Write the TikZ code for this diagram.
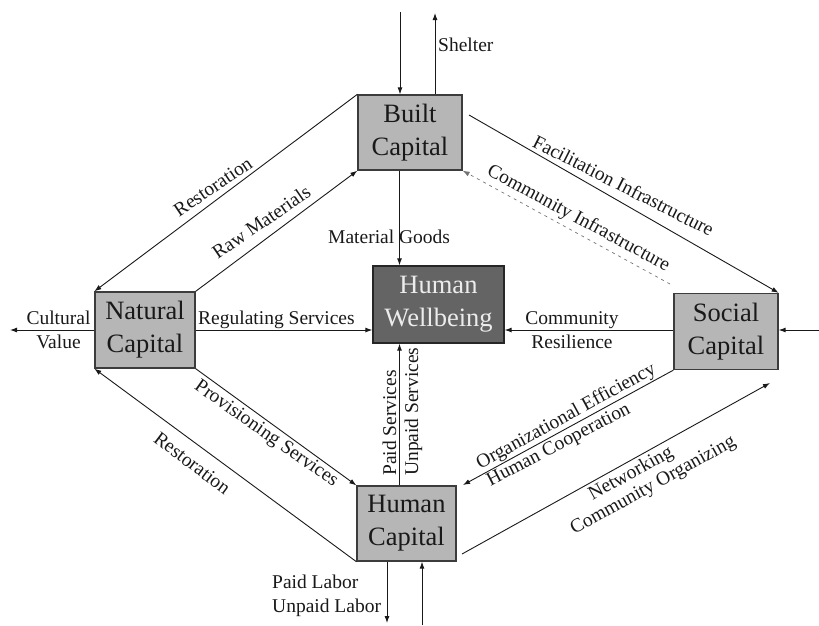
\documentclass[tikz,border=0pt]{standalone}
\usepackage{fontspec}
\setmainfont{Liberation Serif}
\usetikzlibrary{arrows.meta,calc}
\definecolor{boxgray}{RGB}{182,182,182}
\definecolor{wbgray}{RGB}{100,100,100}
\definecolor{wbtext}{RGB}{236,236,236}
\definecolor{linec}{RGB}{25,25,25}
\definecolor{edgec}{RGB}{60,60,60}
\begin{document}
\begin{tikzpicture}[x=1pt,y=-1pt,
  capbox/.style={draw=edgec, line width=1.3pt, fill=boxgray, inner sep=0pt, align=center,
     font=\fontsize{26.5}{33}\selectfont, text=black!90},
  wbbox/.style={capbox, fill=wbgray, draw=black!85, text=wbtext},
  lab/.style={font=\fontsize{19.5}{23.5}\selectfont, inner sep=0pt, text=black!90},
  arr/.style={draw=linec, line width=0.9pt, -{Latex[length=7pt,width=5pt]}},
  dotline/.style={arr, draw=black!55, line width=0.7pt, dash pattern=on 3pt off 4pt}]
\useasboundingbox (0,0) rectangle (819,625);

% boxes
\node[capbox, minimum width=104pt, minimum height=75pt] (built) at (410,132.5) {Built\\Capital};
\node[capbox, minimum width=100pt, minimum height=76pt] (natural) at (145,330) {Natural\\Capital};
\node[capbox, minimum width=104pt, minimum height=76pt] (social) at (726,331.5) {Social\\Capital};
\node[capbox, minimum width=99pt, minimum height=75pt] (human) at (406.5,523.5) {Human\\Capital};
\node[wbbox, minimum width=131pt, minimum height=77pt] (wb) at (438.5,304.5) {Human\\Wellbeing};

% free ends
\coordinate (vx) at (399.5,0);
\coordinate (topin) at (400,12);
\coordinate (topout) at (435,13);
\coordinate (botout) at (387,623);
\coordinate (botin) at (422,625);
\coordinate (cv) at (10,0);
\coordinate (rin) at (819,0);
\coordinate (fi) at (469,115);
\coordinate (ci) at (670,284);
\coordinate (oe) at (463,485);
\coordinate (nw1) at (462,554);
\coordinate (nw2) at (770,383);

% vertical connectors
\draw[arr] (topin) -- (topin |- built.north);
\draw[arr] (topout |- built.north) -- (topout);
\draw[arr] (vx |- built.south) -- (vx |- wb.north);
\draw[arr] (vx |- human.north) -- (vx |- wb.south);
\draw[arr] (botout |- human.south) -- (botout);
\draw[arr] (botin) -- (botin |- human.south);

% horizontal connectors
\draw[arr] (natural.west) -- (cv |- natural.west);
\draw[arr] (natural.east) -- (wb.west |- natural.east);
\draw[arr] (social.west |- natural.east) -- (wb.east |- natural.east);
\draw[arr] (rin |- natural.east) -- (social.east |- natural.east);

% diagonal connectors
\draw[arr] (built.north west) -- (natural.north west);
\draw[arr] (natural.north east) -- (built.south west);
\draw[arr] (fi) -- (social.north east);
\draw[dotline] (ci) -- (built.south east);
\draw[arr] (natural.south east) -- (human.north west);
\draw[arr] (human.south west) -- (natural.south west);
\draw[arr] (social.south west) -- (oe);
\draw[arr] (nw1) -- (nw2);

% labels (multi-line nodes: base anchor is the last line's baseline)
\node[lab, anchor=base west] (shelter) at (438,51) {Shelter};
\node[lab, anchor=base west] (matgoods) at (328,243) {Material Goods};
\node[lab, anchor=base west] (regserv) at (198,324) {Regulating Services};
\node[lab, align=center, anchor=base] (cultval) at (58.5,348) {Cultural\\Value};
\node[lab, align=center, anchor=base] (commres) at (572,348) {Community\\Resilience};
\node[lab, align=left, anchor=base west] (labor) at (272,612) {Paid Labor\\Unpaid Labor};
\node[lab, rotate=90, anchor=base west] (paidserv) at (396,476) {Paid Services};
\node[lab, rotate=90, anchor=base west] (unpaidserv) at (418,476) {Unpaid Services};

\node[lab, rotate=34, anchor=base] (rest1) at (216.5,192) {Restoration};
\node[lab, rotate=34.6, anchor=base] (rawmat) at (265,227.5) {Raw Materials};
\node[lab, rotate=-27, anchor=base] (facinf) at (620.5,191.5) {Facilitation Infrastructure};
\node[lab, rotate=-28.3, anchor=base] (cominf) at (576,223) {Community Infrastructure};
\node[lab, rotate=-35.1, anchor=base] (provserv) at (263.5,438) {Provisioning Services};
\node[lab, rotate=-37, anchor=base] (rest2) at (188.4,468.2) {Restoration};
\node[lab, rotate=28.8, anchor=base] (orgeff) at (568.6,421.1) {Organizational Efficiency};
\node[lab, rotate=27.5, anchor=base] (humcoop) at (561,449.5) {Human Cooperation};
\node[lab, rotate=29, anchor=base] (netw) at (633.4,478.2) {Networking};
\node[lab, rotate=29, anchor=base] (comorg) at (655.5,490) {Community Organizing};
\end{tikzpicture}
\end{document}
